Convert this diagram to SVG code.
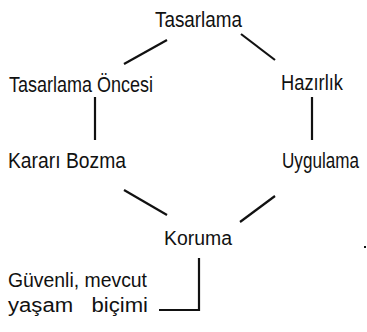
<svg xmlns="http://www.w3.org/2000/svg" width="367" height="332" viewBox="0 0 367 332">
<style>
.lbl{font-family:"Liberation Sans",Arial,sans-serif;font-size:22px;fill:#111;}
.sm{font-size:20px;}
.c{stroke:#111;stroke-width:2.2;fill:none;stroke-linecap:butt;}
</style>
<rect width="367" height="332" fill="#fff"/>
<g id="connectors">
<line class="c" x1="167" y1="40" x2="124" y2="64"/>
<line class="c" x1="241" y1="34" x2="275" y2="60"/>
<line class="c" x1="95" y1="97" x2="95" y2="140"/>
<line class="c" x1="312" y1="97" x2="312" y2="140"/>
<line class="c" x1="124" y1="190" x2="167" y2="215"/>
<line class="c" x1="275" y1="196" x2="240" y2="222"/>
<polyline class="c" points="199,258 199,310 159,310"/>
</g>
<g id="tasarlama"><text class="lbl" x="155" y="27" textLength="87" lengthAdjust="spacingAndGlyphs">Tasarlama</text></g>
<g id="tasarlama-oncesi"><text class="lbl" x="9" y="92" textLength="144" lengthAdjust="spacingAndGlyphs">Tasarlama Öncesi</text></g>
<g id="hazirlik"><text class="lbl" x="281" y="90" textLength="62" lengthAdjust="spacingAndGlyphs">Hazırlık</text></g>
<g id="karari-bozma"><text class="lbl" x="8" y="168" textLength="118" lengthAdjust="spacingAndGlyphs">Kararı Bozma</text></g>
<g id="uygulama" transform="translate(282,168) scale(1,1.2)"><text class="lbl" x="0" y="0" style="font-size:18px" textLength="77" lengthAdjust="spacingAndGlyphs">Uygulama</text></g>
<g id="koruma"><text class="lbl sm" x="164" y="245" textLength="68" lengthAdjust="spacingAndGlyphs">Koruma</text></g>
<g id="guvenli">
<text class="lbl sm" x="8" y="287" textLength="139" lengthAdjust="spacingAndGlyphs">Güvenli, mevcut</text>
<text class="lbl sm" x="8" y="312" xml:space="preserve" textLength="140" lengthAdjust="spacingAndGlyphs">yaşam   biçimi</text>
</g>
<rect x="364" y="246" width="2" height="2" fill="#111"/>
</svg>
